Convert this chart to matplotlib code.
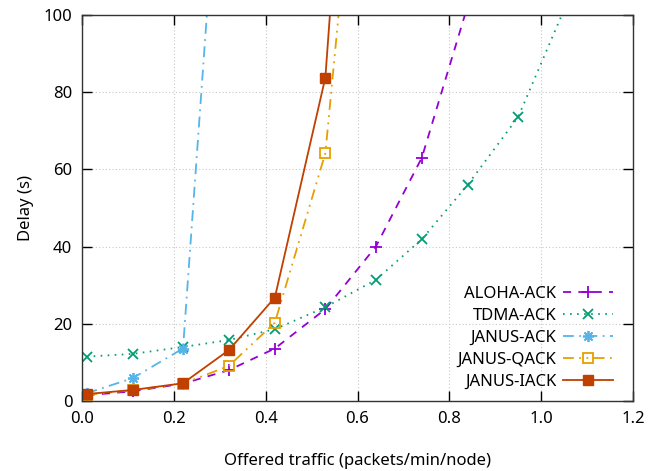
import numpy as np
import matplotlib
matplotlib.use("Agg")
import matplotlib.pyplot as plt

plt.rcParams['font.family'] = ['Noto Sans', 'DejaVu Sans']
plt.rcParams['font.size'] = 12

# offered traffic (packets/min/node)
traffic = [0.01, 0.11, 0.22, 0.32, 0.42, 0.53, 0.64, 0.74, 0.84, 0.95, 1.05]

# delay (s), values above 100 run off the top of the plot
aloha_ack = [1.5, 2.5, 4.5, 8.0, 13.6, 23.8, 40.0, 63.0, 102.4]
tdma_ack = [11.5, 12.2, 14.0, 15.8, 18.6, 24.3, 31.4, 41.9, 56.0, 73.6, 101.4]
janus_ack = [2.0, 5.9, 13.6, 180.0]
janus_qack = [1.6, 2.8, 4.5, 9.1, 20.3, 64.2, 201.0]
janus_iack = [1.8, 2.85, 4.6, 13.2, 26.8, 83.8, 264.0]

fig = plt.figure(figsize=(6.57, 4.71), dpi=100)
ax = fig.add_axes([82/657, 1 - 401/471, (633-82)/657, (401-15)/471])

lw = 1.3
ax.plot(traffic[:len(aloha_ack)], aloha_ack, color='#9400d3', lw=lw, dashes=(4.5, 4),
        marker='+', ms=8, mew=1.3, label='ALOHA-ACK')
ax.plot(traffic[:len(tdma_ack)], tdma_ack, color='#009e73', lw=lw, dashes=(0.9, 3),
        marker='x', ms=6.5, mew=1.3, label='TDMA-ACK')
ax.plot(traffic[:len(janus_ack)], janus_ack, color='#56b4e9', lw=lw, dashes=(6, 3, 1, 3),
        marker=(8, 2, 0), ms=8, mew=1.3, label='JANUS-ACK')
ax.plot(traffic[:len(janus_qack)], janus_qack, color='#e69f00', lw=lw, dashes=(6, 3, 1, 3, 1, 3),
        marker='s', ms=6.5, mew=1.3, mfc='none', label='JANUS-QACK')
ax.plot(traffic[:len(janus_iack)], janus_iack, color='#c04000', lw=lw,
        marker='s', ms=7.2, label='JANUS-IACK')

ax.set_xlim(0, 1.2)
ax.set_ylim(0, 100)
ax.set_xticks(np.arange(0, 1.21, 0.2))
ax.set_xticklabels(['0.0', '0.2', '0.4', '0.6', '0.8', '1.0', '1.2'])
ax.set_yticks([0, 20, 40, 60, 80, 100])
ax.tick_params(direction='in', length=7, width=1, top=True, right=True, pad=7)
ax.grid(True, color='#c8c8c8', linestyle=(0, (1, 2)), linewidth=0.8)
for s in ax.spines.values():
    s.set_linewidth(1.0)
    s.set_color('#333333')

ax.set_xlabel('Offered traffic (packets/min/node)', labelpad=19)
ax.set_ylabel('Delay (s)', labelpad=7)

leg = ax.legend(loc='lower right', frameon=False, markerfirst=False,
                handlelength=3.0, handletextpad=0.4, labelspacing=0.35,
                borderaxespad=0.3, bbox_to_anchor=(0.985, 0.0), numpoints=1)

fig.savefig('out.png', dpi=100)
